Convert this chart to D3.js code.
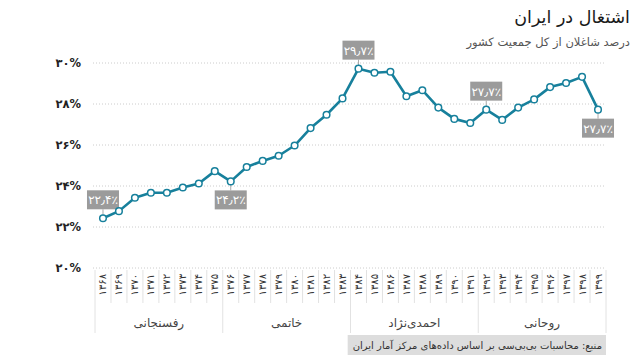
<!DOCTYPE html>
<html><head><meta charset="utf-8">
<script src="https://cdn.jsdelivr.net/npm/d3@7"></script>
<style>
body{margin:0;background:#fff;}
svg{display:block;font-family:"DejaVu Sans",sans-serif;}
</style></head>
<body><svg id="c" width="640" height="360"></svg>
<script>
const years = [1368,1369,1370,1371,1372,1373,1374,1375,1376,1377,1378,1379,1380,1381,1382,1383,1384,1385,1386,1387,1388,1389,1390,1391,1392,1393,1394,1395,1396,1397,1398,1399];
const values = [22.4,22.75,23.4,23.65,23.65,23.9,24.1,24.7,24.2,24.9,25.2,25.45,25.95,26.8,27.45,28.25,29.7,29.5,29.55,28.35,28.65,27.8,27.25,27.05,27.7,27.2,27.8,28.2,28.8,29.0,29.3,27.7];
const yTicks = [20,22,24,26,28,30];
const presidents = ["رفسنجانی","خاتمی","احمدی‌نژاد","روحانی"];
const presidentStart = [1368,1376,1384,1392];
const presidentEnd = [1375,1383,1391,1399];
const callouts = [1368,1376,1384,1392,1399];
const calloutSide = ["above","below","above","above","below"];
const title = "اشتغال در ایران";
const subtitle = "درصد شاغلان از کل جمعیت کشور";
const source = "منبع: محاسبات بی‌بی‌سی بر اساس داده‌های مرکز آمار ایران";

const fa = s => String(s).replace(/[0-9]/g, d => "۰۱۲۳۴۵۶۷۸۹"[+d]).replace(".", "٫");

const svg = d3.select("#c");
const x = d3.scaleBand().domain(years).range([95, 606]).padding(0);
const y = d3.scaleLinear().domain([20, 30]).range([267.5, 62.5]);
const cx = d => x(d) + x.bandwidth()/2;

// title
svg.append("text").attr("x", 630).attr("y", 23).attr("text-anchor","end")
  .attr("font-size", 17.5).attr("fill", "#1a1a1a").text(title);
svg.append("text").attr("x", 630).attr("y", 46).attr("text-anchor","end")
  .attr("font-size", 11.5).attr("fill", "#555").text(subtitle);

// grid
const yAxis = d3.axisLeft(y).tickValues(yTicks).tickSize(-(606-93)).tickFormat(d => fa(d) + "%");
const ga = svg.append("g").attr("transform","translate(93,0)").call(yAxis);
ga.select(".domain").remove();
ga.selectAll(".tick line").attr("stroke","#ccc").attr("stroke-dasharray","1,2");
ga.selectAll(".tick text").attr("x", -12).attr("font-size", 11.5).attr("font-weight", 700)
  .attr("fill","#222").attr("font-family",'"DejaVu Sans",sans-serif');

// x axis separators
const bounds = years.map(d => x(d)).concat([x(years[years.length-1]) + x.bandwidth()]);
svg.append("g").selectAll("line").data(bounds).join("line")
  .attr("x1", d=>d).attr("x2", d=>d).attr("y1", 270)
  .attr("y2", (d,i) => (i % 8 === 0) ? 333 : 303)
  .attr("stroke","#e2e2e2").attr("stroke-width",1);

// year labels
const xAxis = d3.axisBottom(x).tickSize(0).tickFormat(d => fa(d));
const gx = svg.append("g").attr("transform","translate(0,272)").call(xAxis);
gx.select(".domain").remove();
gx.selectAll(".tick text").attr("transform","rotate(-90)").attr("text-anchor","end")
  .attr("x",-2).attr("y",0).attr("dy","0.35em")
  .attr("font-size", 10).attr("fill","#333").attr("font-family",'"DejaVu Sans",sans-serif');

// president labels
svg.append("g").selectAll("text").data(presidents).join("text")
  .attr("x", (d,i) => (x(presidentStart[i]) + x(presidentEnd[i]) + x.bandwidth())/2)
  .attr("y", 327).attr("text-anchor","middle").attr("font-size", 12).attr("fill","#444")
  .text(d => d);

// line
const line = d3.line().x((d,i) => cx(years[i])).y(d => y(d));
svg.append("path").datum(values).attr("d", line).attr("fill","none")
  .attr("stroke","#17809c").attr("stroke-width", 2.6).attr("stroke-linejoin","round");

// callouts
callouts.forEach((yr, k) => {
  const i = years.indexOf(yr);
  const px = cx(yr), py = y(values[i]);
  const above = calloutSide[k] === "above";
  const bw = 32, bh = 19, gap = 9;
  const by = above ? py - gap - bh : py + gap;
  let bx = px - bw/2;
  const g = svg.append("g");
  g.append("line").attr("x1", px).attr("x2", px).attr("y1", py).attr("y2", above ? by + bh : by)
    .attr("stroke","#aaa").attr("stroke-width",1);
  g.append("rect").attr("x", bx).attr("y", by).attr("width", bw).attr("height", bh).attr("fill","#9b9b9b");
  g.append("text").attr("x", px).attr("y", by + bh/2 + 4.5).attr("text-anchor","middle")
    .attr("font-size", 12).attr("fill","#fff").attr("font-family",'"DejaVu Sans",sans-serif')
    .text(fa(values[i]) + "٪");
});

// points
svg.append("g").selectAll("circle").data(values).join("circle")
  .attr("cx", (d,i) => cx(years[i])).attr("cy", d => y(d)).attr("r", 3.3)
  .attr("fill","#fff").attr("stroke","#17809c").attr("stroke-width", 1.5);

// source
const sg = svg.append("g");
const srect = sg.append("rect").attr("y", 335).attr("height", 20).attr("fill","#ddd");
const st = sg.append("text").attr("x", 602).attr("y", 349).attr("text-anchor","end")
  .attr("font-size", 10).attr("fill","#333").text(source);
const bb = st.node().getBBox();
srect.attr("x", bb.x - 5).attr("width", 606 - bb.x + 5);
</script></body></html>
